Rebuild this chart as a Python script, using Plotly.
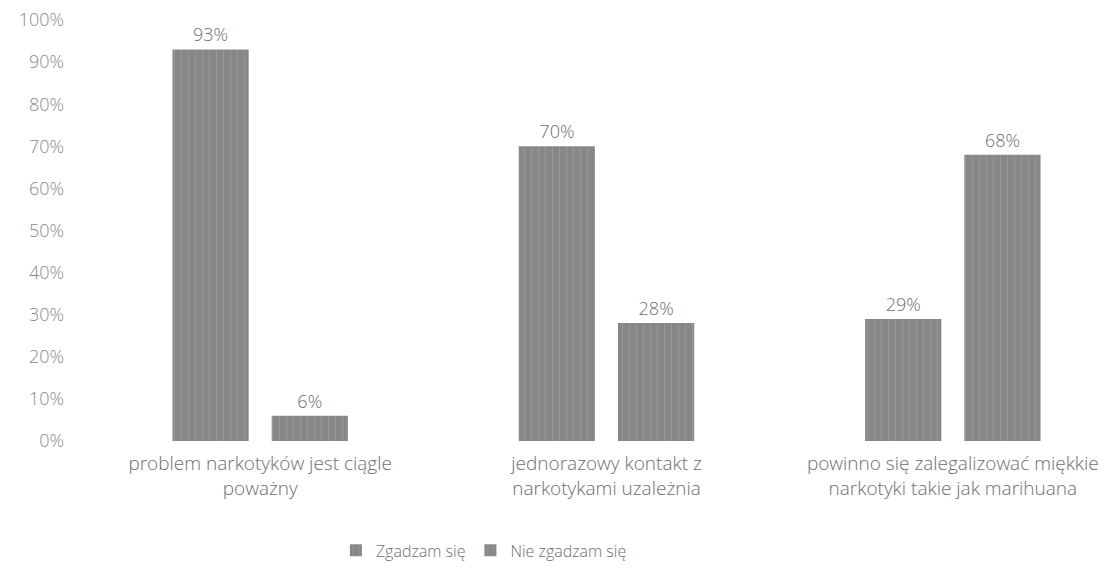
import plotly.graph_objects as go

categories = ["problem narkotyków jest ciągle<br>poważny",
              "jednorazowy kontakt z<br>narkotykami uzależnia",
              "powinno się zalegalizować miękkie<br>narkotyki takie jak marihuana"]
series_names = ["Zgadzam się", "Nie zgadzam się"]
agree = [0.93, 0.70, 0.29]
disagree = [0.06, 0.28, 0.68]
tick_vals = [i / 10 for i in range(11)]
tick_text = [f"{i*10}%" for i in range(11)]

font_family = "Open Sans"
text_color = "#6e6e6e"

fig = go.Figure()
for name, vals in zip(series_names, [agree, disagree]):
    fig.add_trace(go.Bar(
        x=categories, y=vals, name=name,
        text=[f"{round(v*100)}%" for v in vals],
        textposition="outside",
        textfont=dict(size=18, color=text_color, family=font_family, weight=300),
        cliponaxis=False,
        marker=dict(color="#8a8a8a",
                    pattern=dict(shape="|", fgcolor="#a8a8a8", bgcolor="#878787",
                                 size=7, solidity=0.15),
                    line=dict(width=0)),
    ))

fig.update_layout(
    width=1118, height=568,
    margin=dict(l=79, r=0, t=12, b=135),
    plot_bgcolor="white", paper_bgcolor="white",
    barmode="group", bargap=0.427, bargroupgap=0.232,
    font=dict(family=font_family, color=text_color, size=18, weight=300),
    showlegend=True,
    legend=dict(orientation="h", x=0.382, xanchor="center", y=-0.26, yanchor="middle",
                font=dict(size=16, color=text_color, weight=300), itemwidth=30),
)
fig.update_yaxes(range=[0, 1], tickvals=tick_vals, ticktext=tick_text,
                 showgrid=False, zeroline=False, showline=False,
                 ticklabeloverflow="allow",
                 ticklabelstandoff=22, tickfont=dict(size=18, color="#8a8a8a", weight=300))
fig.update_xaxes(showgrid=False, showline=False, ticks="",
                 tickfont=dict(size=19, color=text_color, weight=300), ticklabelstandoff=9)

fig.write_html("out.html")
